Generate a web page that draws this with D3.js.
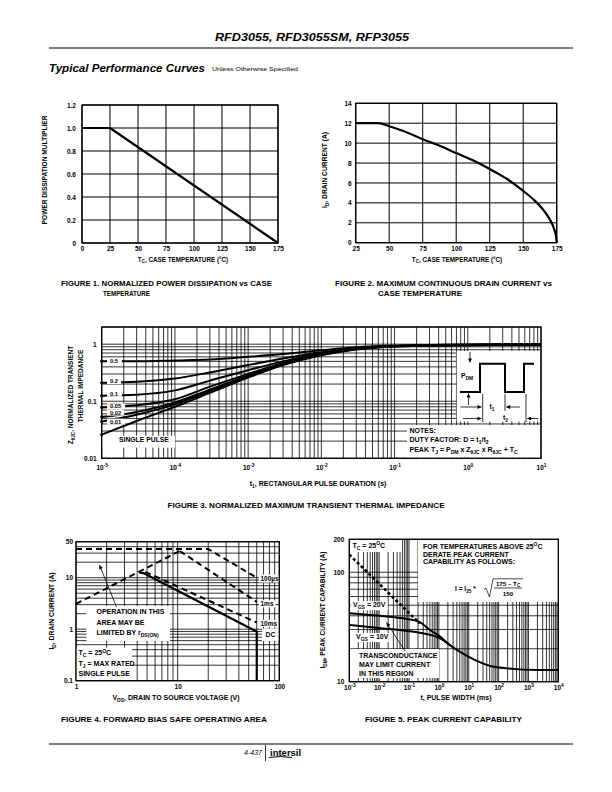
<!DOCTYPE html>
<html><head><meta charset="utf-8">
<script src="https://cdn.jsdelivr.net/npm/d3@7"></script>
<style>
body{margin:0;background:#fff}
svg{display:block}
text{font-family:"Liberation Sans",Arial,Helvetica,sans-serif;font-weight:bold;fill:#000}
</style></head><body>
<svg id="page" width="612" height="792"></svg>
<script>
// ---------------- DATA ----------------
// Figure 1: normalized power dissipation vs case temperature
const f1Temp = [0, 25, 175];
const f1Mult = [1.0, 1.0, 0];
const f1XTicks = [0, 25, 50, 75, 100, 125, 150, 175];
const f1YTicks = [0, 0.2, 0.4, 0.6, 0.8, 1.0, 1.2];
// Figure 2: max continuous drain current vs case temperature
const f2Temp = [25, 42, 50, 60, 75, 90, 100, 112, 125, 138, 150, 158, 165, 170, 173, 174.5, 175];
const f2Id   = [12, 12, 11.7, 11.25, 10.4, 9.6, 9.0, 8.3, 7.4, 6.4, 5.2, 4.3, 3.3, 2.3, 1.4, 0.6, 0];
const f2XTicks = [25, 50, 75, 100, 125, 150, 175];
const f2YTicks = [0, 2, 4, 6, 8, 10, 12, 14];
// Figure 3: normalized transient thermal impedance
const f3Time   = [1e-5, 3e-5, 1e-4, 3e-4, 1e-3, 3e-3, 1e-2, 3e-2, 1e-1, 1, 10];
const f3D050   = [0.50, 0.50, 0.52, 0.54, 0.60, 0.67, 0.78, 0.88, 0.94, 0.99, 1.0];
const f3D020   = [0.21, 0.22, 0.25, 0.32, 0.43, 0.56, 0.72, 0.85, 0.93, 0.98, 1.0];
const f3D010   = [0.125, 0.13, 0.155, 0.23, 0.35, 0.50, 0.69, 0.84, 0.92, 0.97, 0.99];
const f3D005   = [0.078, 0.085, 0.108, 0.18, 0.30, 0.47, 0.67, 0.83, 0.92, 0.97, 0.99];
const f3D002   = [0.053, 0.065, 0.095, 0.16, 0.28, 0.45, 0.66, 0.82, 0.91, 0.96, 0.98];
const f3D001   = [0.044, 0.058, 0.088, 0.15, 0.27, 0.44, 0.65, 0.82, 0.91, 0.96, 0.98];
const f3Single = [0.026, 0.045, 0.080, 0.14, 0.26, 0.43, 0.64, 0.81, 0.91, 0.96, 0.98];
const f3DutyLabels = ["0.5", "0.2", "0.1", "0.05", "0.02", "0.01"];
const f3XTicks = [1e-5, 1e-4, 1e-3, 1e-2, 1e-1, 1, 10];
const f3YTicks = [0.01, 0.1, 1];
// Figure 4: forward bias safe operating area
const f4VRds   = [1, 10.5];     const f4IRds   = [3.1, 33];
const f4V100us = [1, 20, 60];   const f4I100us = [36, 36, 10];
const f4V1ms   = [10.5, 60];    const f4I1ms   = [33, 3.4];
const f4V10ms  = [4.8, 60];     const f4I10ms  = [13, 1.35];
const f4VDc    = [4.2, 4.6, 60, 60]; const f4IDc = [12.5, 12.3, 0.9, 0.1];
const f4XTicks = [1, 10, 100];
const f4YTicks = [0.1, 1, 10, 50];
// Figure 5: peak current capability
const f5TLimit = [0.001, 0.23];  const f5ILimit = [145, 34];
const f5T20 = [0.001, 0.01, 0.084, 0.23, 0.5, 1.1, 2.35, 5, 14, 50, 186, 2000, 10000];
const f5I20 = [42.2, 40, 37.4, 35, 29.7, 25.8, 21.6, 18.8, 16.1, 14, 13.25, 12.8, 12.8];
const f5T10 = [0.001, 0.0138, 0.084, 0.23, 1.1, 2.35];
const f5I10 = [33, 30.7, 29.1, 28, 24.9, 21.6];
const f5XTicks = [1e-3, 1e-2, 1e-1, 1, 10, 100, 1000, 10000];
const f5YTicks = [10, 100, 200];

// ---------------- HELPERS ----------------
const TICK = 6.5, ANN = 7;
const svg = d3.select("#page");
const defs = svg.append("defs");
defs.append("marker").attr("id","ah").attr("markerUnits","userSpaceOnUse")
  .attr("viewBox","0 0 10 10").attr("refX",10).attr("refY",5)
  .attr("markerWidth",5).attr("markerHeight",4).attr("orient","auto")
  .append("path").attr("d","M0,0L10,5L0,10Z").attr("fill","#000");

function rich(g, x, y, parts, o = {}) {
  const size = o.size || 6;
  const t = g.append("text").attr("x", x).attr("y", y)
    .style("font-size", size + "px").attr("text-anchor", o.anchor || "start");
  if (o.rotate) t.attr("transform", `rotate(-90,${x},${y})`);
  if (o.italic) t.style("font-style", "italic");
  if (o.normal) t.style("font-weight", "normal");
  let shift = 0;
  parts.forEach(p => {
    const [s, m] = Array.isArray(p) ? p : [p, null];
    const target = m === "sub" ? size * 0.3 : m === "sup" ? -size * 0.4 : 0;
    const ts = t.append("tspan").text(s).attr("dy", target - shift);
    if (m) ts.style("font-size", (size * 0.72) + "px");
    shift = target;
  });
  if (o.len) t.attr("textLength", o.len).attr("lengthAdjust", "spacingAndGlyphs");
  return t;
}
function labelBg(g, x, y, parts, o = {}, pad = 1) {
  const t = rich(g, x, y, parts, o);
  const bb = t.node().getBBox();
  g.insert("rect", () => t.node()).attr("x", bb.x - pad).attr("y", bb.y)
    .attr("width", bb.width + 2 * pad).attr("height", bb.height).attr("fill", "#fff");
  return t;
}
function drawGrid(g, x, y, xs, ys, w) {
  const [xa, xb] = x.range(), [ya, yb] = y.range();
  g.append("g").selectAll("line").data(xs).join("line")
    .attr("x1", d => x(d)).attr("x2", d => x(d)).attr("y1", ya).attr("y2", yb)
    .attr("stroke", "#000").attr("stroke-width", w);
  g.append("g").selectAll("line").data(ys).join("line")
    .attr("y1", d => y(d)).attr("y2", d => y(d)).attr("x1", xa).attr("x2", xb)
    .attr("stroke", "#000").attr("stroke-width", w);
}
function border(g, x, y) {
  const [xa, xb] = x.range(), [ya, yb] = y.range();
  g.append("rect").attr("x", xa).attr("y", yb).attr("width", xb - xa).attr("height", ya - yb)
    .attr("fill", "none").attr("stroke", "#000").attr("stroke-width", 1.3);
}
function whiteBox(g, x0, y0, x1, y1) {
  g.append("rect").attr("x", x0).attr("y", y0).attr("width", x1 - x0).attr("height", y1 - y0).attr("fill", "#fff");
}
function axes(g, x, y, o) {
  const [xa] = x.range(), [ya] = y.range();
  const gx = g.append("g").attr("transform", `translate(0,${ya})`)
    .call(d3.axisBottom(x).tickValues(o.xt).tickSize(0).tickPadding(o.xp).tickFormat(o.xf || (d => d)));
  const gy = g.append("g").attr("transform", `translate(${xa},0)`)
    .call(d3.axisLeft(y).tickValues(o.yt).tickSize(0).tickPadding(o.yp).tickFormat(o.yf || (d => d)));
  [gx, gy].forEach(a => {
    a.attr("font-size", null).attr("font-family", null);
    a.select(".domain").remove();
    a.selectAll("text").style("font-size", TICK + "px");
  });
  if (o.xsup) gx.selectAll(".tick text").each(function (d) {
    const t = d3.select(this); t.text("");
    t.append("tspan").text("10");
    t.append("tspan").attr("dy", -3.2).style("font-size", "4.8px").text(Math.round(Math.log10(d)));
  });
}
function curve(g, x, y, xs, ys, w, dash, c) {
  const p = g.append("path").datum(d3.zip(xs, ys))
    .attr("d", d3.line().x(d => x(d[0])).y(d => y(d[1])).curve(c || d3.curveLinear))
    .attr("fill", "none").attr("stroke", "#000").attr("stroke-width", w)
    .attr("stroke-linejoin", "round");
  if (dash) p.attr("stroke-dasharray", dash);
  return p;
}
function arrow(g, x1, y1, x2, y2, w) {
  g.append("line").attr("x1", x1).attr("y1", y1).attr("x2", x2).attr("y2", y2)
    .attr("stroke", "#000").attr("stroke-width", w || 0.8).attr("marker-end", "url(#ah)");
}
function hline(g, x1, x2, y, w) {
  g.append("line").attr("x1", x1).attr("x2", x2).attr("y1", y).attr("y2", y).attr("stroke", "#000").attr("stroke-width", w || 1);
}
function vline(g, x, y1, y2, w) {
  g.append("line").attr("x1", x).attr("x2", x).attr("y1", y1).attr("y2", y2).attr("stroke", "#000").attr("stroke-width", w || 1);
}

// ---------------- PAGE HEADER ----------------
rich(svg, 312, 41, ["RFD3055, RFD3055SM, RFP3055"], {size: 11, italic: true, anchor: "middle", len: 194});
hline(svg, 49, 573, 48, 1);
rich(svg, 49, 72, ["Typical Performance Curves"], {size: 10.5, italic: true, len: 156});
rich(svg, 212, 71, ["Unless Otherwise Specified"], {size: 5.6, normal: true, len: 86});

// ---------------- FIGURE 1 ----------------
{
  const x = d3.scaleLinear().domain([0, 175]).range([82, 278]);
  const y = d3.scaleLinear().domain([0, 1.2]).range([243, 105]);
  const g = svg.append("g");
  drawGrid(g, x, y, f1XTicks, f1YTicks, 1);
  curve(g, x, y, f1Temp, f1Mult, 2.2);
  border(g, x, y);
  axes(g, x, y, {xt: f1XTicks, xp: 3.5, yt: f1YTicks, yp: 6, yf: d => d === 0 ? "0" : d3.format(".1f")(d)});
  rich(g, 47, 170, ["POWER DISSIPATION MULTIPLIER"], {rotate: true, anchor: "middle", size: 6.6});
  rich(g, 183, 261.5, ["T", ["C", "sub"], ", CASE TEMPERATURE (°C)"], {anchor: "middle", size: 6.3});
  rich(g, 61, 286, ["FIGURE 1.  NORMALIZED POWER DISSIPATION vs CASE"], {size: 8, len: 211});
  rich(g, 103, 295.5, ["TEMPERATURE"], {size: 8, len: 47});
}

// ---------------- FIGURE 2 ----------------
{
  const x = d3.scaleLinear().domain([25, 175]).range([355.7, 556.7]);
  const y = d3.scaleLinear().domain([0, 14]).range([242.7, 103.3]);
  const g = svg.append("g");
  drawGrid(g, x, y, f2XTicks, f2YTicks, 1);
  curve(g, x, y, f2Temp, f2Id, 2.2, null, d3.curveMonotoneX);
  border(g, x, y);
  axes(g, x, y, {xt: f2XTicks, xp: 3.5, yt: f2YTicks, yp: 4});
  rich(g, 327, 170, ["I", ["D", "sub"], ", DRAIN CURRENT (A)"], {rotate: true, anchor: "middle", size: 6.7});
  rich(g, 457, 261.5, ["T", ["C", "sub"], ", CASE TEMPERATURE (°C)"], {anchor: "middle", size: 6.3});
  rich(g, 335, 286, ["FIGURE 2.  MAXIMUM CONTINUOUS DRAIN CURRENT vs"], {size: 8, len: 217});
  rich(g, 378, 295.5, ["CASE TEMPERATURE"], {size: 8, len: 84});
}

// ---------------- FIGURE 3 ----------------
{
  const x = d3.scaleLog().domain([1e-5, 10]).range([101.7, 541]);
  const y = d3.scaleLog().domain([0.01, 2]).range([458.3, 327]);
  const g = svg.append("g");
  drawGrid(g, x, y, x.ticks(), y.ticks(), 0.8);
  // blank areas for inset, notes and label
  whiteBox(g, 456.7, 351, 540, 421.5);
  whiteBox(g, 407, 425, 540, 457.6);
  whiteBox(g, 101.7, 435.8, 175, 447.6);
  const series = [f3D050, f3D020, f3D010, f3D005, f3D002, f3D001, f3Single];
  series.forEach(s => curve(g, x, y, f3Time, s, 2, null, d3.curveMonotoneX));
  // dots at the left axis
  g.append("g").selectAll("circle").data(series).join("circle")
    .attr("cx", x(f3Time[0])).attr("cy", d => y(d[0])).attr("r", 1.6).attr("fill", "#000");
  // duty-factor labels
  const labY = [363.3, 383, 395.7, 408.3, 414.6, 423.6];
  f3DutyLabels.forEach((l, i) => labelBg(g, 110, labY[i], [l], {size: 5.8}, 3));
  rich(g, 119, 441.5, ["SINGLE PULSE"], {size: 6.8});
  border(g, x, y);
  axes(g, x, y, {xt: f3XTicks, xp: 7, xsup: true, yt: f3YTicks, yp: 5, yf: d => d >= 1 ? "1" : String(d)});
  rich(g, 73, 395, ["Z", ["θJC", "sub"], ", NORMALIZED TRANSIENT"], {rotate: true, anchor: "middle", size: 6.5});
  rich(g, 82.5, 386, ["THERMAL IMPEDANCE"], {rotate: true, anchor: "middle", size: 6.5});
  rich(g, 318, 486, ["t", ["1", "sub"], ", RECTANGULAR PULSE DURATION (s)"], {anchor: "middle", size: 7});
  rich(g, 306, 508, ["FIGURE 3.  NORMALIZED MAXIMUM TRANSIENT THERMAL IMPEDANCE"], {size: 8, anchor: "middle", len: 277});
  // pulse inset
  const ins = g.append("g");
  ins.append("path").attr("d", "M460,392H480V363.7H505V392H524V363.7H534")
    .attr("fill", "none").attr("stroke", "#000").attr("stroke-width", 2);
  arrow(ins, 470, 352, 470, 362.5);
  arrow(ins, 468.5, 405, 468.5, 393.5);
  vline(ins, 482.7, 394, 422, 0.8);
  vline(ins, 505, 394, 411, 0.8);
  vline(ins, 526, 394, 422, 0.8);
  arrow(ins, 460.5, 407, 481.5, 407);
  arrow(ins, 520, 407, 506.2, 407);
  arrow(ins, 463, 418.5, 481.5, 418.5);
  arrow(ins, 538, 418.5, 527.2, 418.5);
  rich(ins, 461, 377.5, ["P", ["DM", "sub"]], {size: 6.8});
  rich(ins, 489.5, 408.5, ["t", ["1", "sub"]], {size: 6.8});
  rich(ins, 503, 419.5, ["t", ["2", "sub"]], {size: 6.8});
  // notes
  rich(g, 409.5, 432.8, ["NOTES:"], {size: ANN});
  rich(g, 409.5, 442.3, ["DUTY FACTOR: D = t", ["1", "sub"], "/t", ["2", "sub"]], {size: ANN});
  rich(g, 409.5, 452.3, ["PEAK T", ["J", "sub"], " = P", ["DM", "sub"], " x Z", ["θJC", "sub"], "  x R", ["θJC", "sub"], " + T", ["C", "sub"]], {size: ANN});
}

// ---------------- FIGURE 4 ----------------
{
  const x = d3.scaleLog().domain([1, 100]).range([76, 279.3]);
  const y = d3.scaleLog().domain([0.1, 50]).range([680.7, 541.7]);
  const g = svg.append("g");
  drawGrid(g, x, y, x.ticks(), y.ticks(), 0.8);
  whiteBox(g, 86.5, 606, 170, 641);
  whiteBox(g, 76, 647.5, 132, 680);
  curve(g, x, y, f4VRds, f4IRds, 2, "6,4");
  curve(g, x, y, f4V100us, f4I100us, 2, "6,4");
  curve(g, x, y, f4V1ms, f4I1ms, 2, "6,4");
  curve(g, x, y, f4V10ms, f4I10ms, 2, "6,4");
  curve(g, x, y, f4VDc, f4IDc, 2.2);
  labelBg(g, 260.5, 580.5, ["100µs"], {size: 6.5}, 1.5);
  labelBg(g, 260.5, 606.3, ["1ms"], {size: 6.5}, 1.5);
  labelBg(g, 260.5, 625.8, ["10ms"], {size: 6.5}, 1.5);
  whiteBox(g, 262, 628.5, 279, 641);
  rich(g, 265.5, 637, ["DC"], {size: 6.8});
  rich(g, 96.5, 613.8, ["OPERATION IN THIS"], {size: ANN});
  rich(g, 96.5, 624.8, ["AREA MAY BE"], {size: ANN});
  rich(g, 96.5, 635.3, ["LIMITED BY r", ["DS(ON)", "sub"]], {size: ANN});
  arrow(g, 116.5, 607, 99.5, 565);
  rich(g, 78.5, 655.3, ["T", ["C", "sub"], " = 25", ["O", "sup"], "C"], {size: ANN});
  rich(g, 78.5, 665.8, ["T", ["J", "sub"], " = MAX RATED"], {size: ANN});
  rich(g, 78.5, 675.8, ["SINGLE PULSE"], {size: ANN});
  border(g, x, y);
  axes(g, x, y, {xt: f4XTicks, xp: 4, yt: f4YTicks, yp: 3});
  rich(g, 54, 611, ["I", ["D", "sub"], ", DRAIN CURRENT (A)"], {rotate: true, anchor: "middle", size: 6.8});
  rich(g, 176, 700, ["V", ["DS", "sub"], ", DRAIN TO SOURCE VOLTAGE (V)"], {anchor: "middle", size: ANN});
  rich(g, 61, 722, ["FIGURE 4.  FORWARD BIAS SAFE OPERATING AREA"], {size: 8, len: 206});
}

// ---------------- FIGURE 5 ----------------
{
  const x = d3.scaleLog().domain([1e-3, 1e4]).range([349.3, 558.3]);
  const y = d3.scaleLog().domain([10, 200]).range([681.7, 539.3]);
  const g = svg.append("g");
  drawGrid(g, x, y, x.ticks(), y.ticks(), 0.8);
  whiteBox(g, 349.3, 539.3, 402, 552);
  whiteBox(g, 418, 539.3, 558.3, 602);
  whiteBox(g, 351.5, 649, 439, 678);
  curve(g, x, y, f5TLimit, f5ILimit, 2.6, "3,2.4");
  curve(g, x, y, f5T20, f5I20, 2, null, d3.curveMonotoneX);
  curve(g, x, y, f5T10, f5I10, 2, null, d3.curveMonotoneX);
  labelBg(g, 353, 607.2, ["V", ["GS", "sub"], " = 20V"], {size: ANN}, 2);
  labelBg(g, 356, 639, ["V", ["GS", "sub"], " = 10V"], {size: ANN}, 2);
  rich(g, 352.5, 547.5, ["T", ["C", "sub"], " = 25", ["O", "sup"], "C"], {size: ANN});
  rich(g, 423, 548.8, ["FOR TEMPERATURES ABOVE 25", ["O", "sup"], "C"], {size: ANN});
  rich(g, 423, 556.8, ["DERATE PEAK CURRENT"], {size: ANN});
  rich(g, 423, 564.3, ["CAPABILITY AS FOLLOWS:"], {size: ANN});
  rich(g, 455, 591, ["I  =  I", ["25", "sub"], " *"], {size: 6.6});
  g.append("path").attr("d", "M484,589.5L486,588L489.5,597L493,578.8H523")
    .attr("fill", "none").attr("stroke", "#000").attr("stroke-width", 0.7);
  rich(g, 508, 585.6, ["175 – T", ["C", "sub"]], {size: 6.2, anchor: "middle"});
  hline(g, 494, 522, 588, 0.7);
  rich(g, 508, 596, ["150"], {size: 6.2, anchor: "middle"});
  rich(g, 359, 658.3, ["TRANSCONDUCTANCE"], {size: ANN});
  rich(g, 359, 667.3, ["MAY LIMIT CURRENT"], {size: ANN});
  rich(g, 359, 675.8, ["IN THIS REGION"], {size: ANN});
  arrow(g, 405, 651, 386.5, 622.5);
  border(g, x, y);
  axes(g, x, y, {xt: f5XTicks, xp: 4, xsup: true, yt: f5YTicks, yp: 5});
  rich(g, 325, 610, ["I", ["DM", "sub"], ", PEAK CURRENT CAPABILITY (A)"], {rotate: true, anchor: "middle", size: 6.6});
  rich(g, 456, 700, ["t, PULSE WIDTH (ms)"], {anchor: "middle", size: ANN});
  rich(g, 365, 722, ["FIGURE 5.  PEAK CURRENT CAPABILITY"], {size: 8, len: 157});
}

// ---------------- FOOTER ----------------
hline(svg, 49, 573, 744, 1);
rich(svg, 262, 755, ["4-437"], {size: 7, italic: true, normal: true, anchor: "end"});
vline(svg, 265.5, 745, 761, 0.8);
rich(svg, 270, 755.5, ["intersil"], {size: 9.5});
svg.append("path").attr("d", "M269,757.5Q280,755.5 292,757.5").attr("fill", "none").attr("stroke", "#000").attr("stroke-width", 1);
</script>
</body></html>
